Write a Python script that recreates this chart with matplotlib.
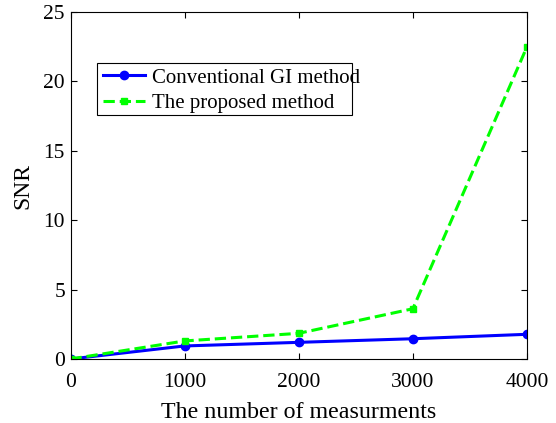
import matplotlib
matplotlib.use("Agg")
import matplotlib.pyplot as plt
from matplotlib.patches import Rectangle

x = [0, 1000, 2000, 3000, 4000]
conventional = [0.0, 0.94, 1.2, 1.46, 1.78]
proposed = [0.0, 1.3, 1.85, 3.62, 22.5]
xticks = [0, 1000, 2000, 3000, 4000]
yticks = [0, 5, 10, 15, 20, 25]

plt.rcParams['font.family'] = ['Liberation Serif', 'DejaVu Serif']

W, H = 556, 423
fig = plt.figure(figsize=(W/100, H/100), dpi=100)
L, R, T, B = 70.5, 527, 12, 359
ax = fig.add_axes([L/W, 1-B/H, (R-L)/W, (B-T)/H])

ax.plot(x, conventional, '-o', color='#0000ff', lw=2.2, ms=6, label='Conventional GI method')
ax.plot(x, proposed, '--s', color='#00ff00', lw=2.2, ms=5, mfc='#00ff00', mec='#00ff00',
        label='The proposed method')

ax.set_xlim(0, 4000)
ax.set_ylim(0, 25)
ax.set_xticks(xticks)
ax.set_yticks(yticks)
ax.tick_params(direction='in', top=True, right=True, labelsize=15.5, length=4, width=0.8)
ax.tick_params(axis='x', pad=10)
ax.tick_params(axis='y', pad=4)
for s in ax.spines.values():
    s.set_linewidth(0.8)
ax.set_xlabel('The number of measurments', fontsize=17.3, labelpad=7)
ax.set_ylabel('SNR', fontsize=17, labelpad=7)

def px2ax(px, py):
    return ((px - L) / (R - L), (B - py) / (B - T))

# legend box
x0, y0 = px2ax(97, 115)
x1, y1 = px2ax(352, 63)
ax.add_patch(Rectangle((x0, y0), x1 - x0, y1 - y0, transform=ax.transAxes,
                       fill=True, facecolor='white', edgecolor='black', lw=0.8, zorder=5))
ax0, ay0 = px2ax(98, 63)
leg = ax.legend(loc='upper left', bbox_to_anchor=(ax0, ay0),
                fontsize=15, frameon=False, borderpad=0.25, handlelength=2.0,
                labelspacing=0.28, borderaxespad=0, handletextpad=0.35)
leg.set_zorder(6)

fig.savefig('out.png', dpi=100)
